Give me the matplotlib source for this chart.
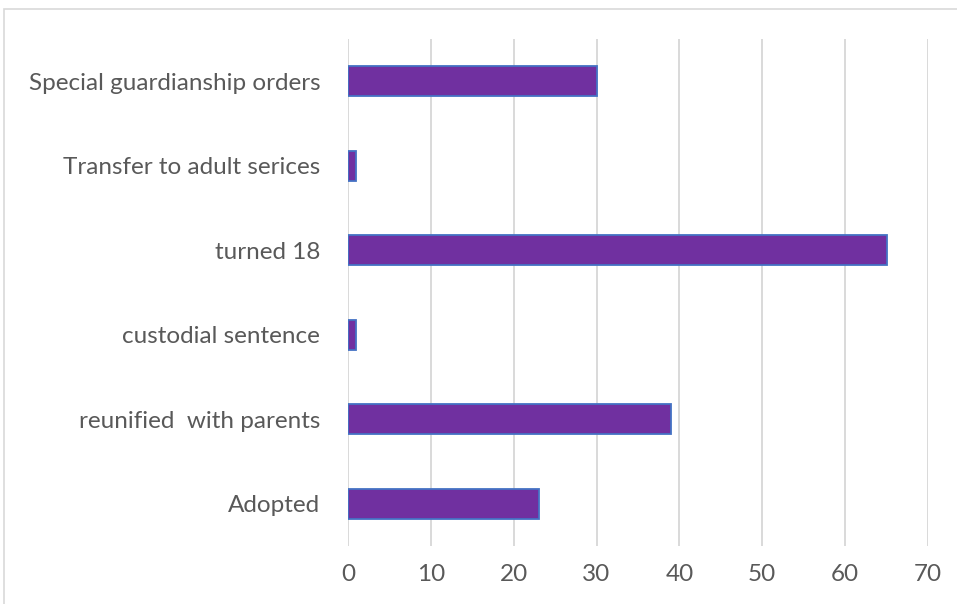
import matplotlib.pyplot as plt
from matplotlib.patches import FancyBboxPatch

categories = ["Adopted", "reunified  with parents", "custodial sentence",
              "turned 18", "Transfer to adult serices", "Special guardianship orders"]
values = [23, 39, 1, 65, 1, 30]
xticks = [0, 10, 20, 30, 40, 50, 60, 70]

plt.rcParams['font.family'] = ['Lato', 'DejaVu Sans']

fig = plt.figure(figsize=(9.57, 6.04), dpi=100)
ax = fig.add_axes([0.3636, 0.096, 0.6061, 0.8394])

# outer chart border
fig.patches.append(FancyBboxPatch((0.004, -0.02), 1.2, 1.005, boxstyle="square,pad=0",
                                  transform=fig.transFigure, fill=False,
                                  edgecolor="#d9d9d9", linewidth=1.2))

ax.barh(range(len(categories)), values, height=0.36, color="#7030A0",
        edgecolor="#4472C4", linewidth=1.3, zorder=3)

ax.set_xlim(0, 70)
ax.set_ylim(-0.5, len(categories) - 0.5)
ax.set_xticks(xticks)
ax.set_yticks(range(len(categories)))
ax.set_yticklabels(categories)
ax.grid(axis="x", color="#d9d9d9", linewidth=1.4, zorder=0)
for s in ax.spines.values():
    s.set_visible(False)
ax.tick_params(axis="both", length=0, labelsize=17.5, colors="#595959")
ax.tick_params(axis="x", pad=13)
ax.tick_params(axis="y", pad=20)

fig.savefig("out.png", dpi=100)
